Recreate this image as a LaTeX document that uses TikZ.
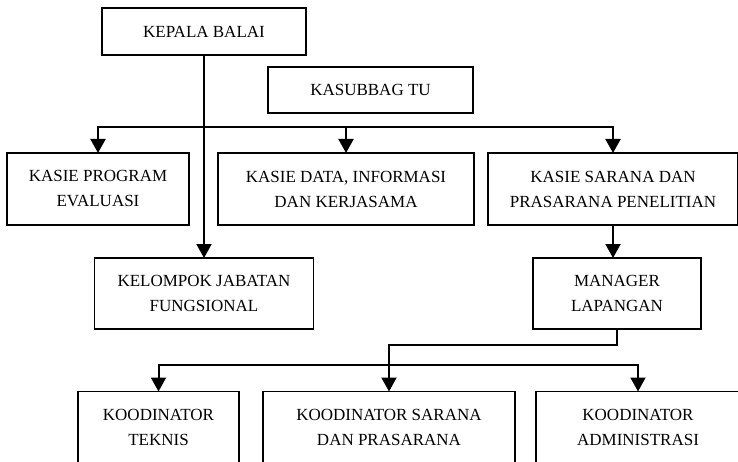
\documentclass[tikz,border=0pt]{standalone}
\usepackage{fontspec}
\setmainfont{Liberation Serif}
\usetikzlibrary{arrows.meta}
\begin{document}
\begin{tikzpicture}[x=1pt, y=-1pt, font=\fontsize{17}{25}\selectfont, every node/.style={draw, fill=white, line width=1.8pt, align=center, inner sep=0pt, outer sep=0pt}, arr/.style={line width=2pt, -{Triangle[width=15pt, length=14pt]}}, line join=miter]
        \useasboundingbox (0,0) rectangle (738,462);
        \node[minimum width=204, minimum height=47] (kepala) at (204, 31.5) {KEPALA BALAI};
        \node[minimum width=205, minimum height=46] (kasubbag) at (370.5, 90) {KASUBBAG TU};
        \node[minimum width=182, minimum height=72] (program) at (98, 189) {KASIE PROGRAM\\EVALUASI};
        \node[minimum width=256, minimum height=72] (data) at (346, 189) {KASIE DATA, INFORMASI\\DAN KERJASAMA};
        \node[minimum width=250, minimum height=72] (sarana) at (613, 189) {KASIE SARANA DAN\\PRASARANA PENELITIAN};
        \node[minimum width=219, minimum height=71] (kelompok) at (204, 293.5) {KELOMPOK JABATAN\\FUNGSIONAL};
        \node[minimum width=168, minimum height=71] (manager) at (617, 293.5) {MANAGER\\LAPANGAN};
        \node[minimum width=161, minimum height=71] (teknis) at (158.5, 427) {KOODINATOR\\TEKNIS};
        \node[minimum width=252, minimum height=71] (prasarana) at (389, 427) {KOODINATOR SARANA\\DAN PRASARANA};
        \node[minimum width=204, minimum height=71] (admin) at (638, 427) {KOODINATOR\\ADMINISTRASI};
        % garis
        \coordinate (atas) at (204, 127);
        \coordinate (bawah) at (389, 365);
        \draw[arr] (kepala.south) -- (kelompok.north);
        \draw[arr] (atas) -| (program.north);
        \draw[arr] (atas) -| (data.north);
        \draw[arr] (atas) -| (sarana.north);
        \draw[arr] (sarana.south) -- (manager.north -| sarana.south);
        \draw[arr] (manager.south) -- ++(0, 16) -| (prasarana.north);
        \draw[arr] (bawah) -| (teknis.north);
        \draw[arr] (bawah) -| (admin.north);
    \end{tikzpicture}
\end{document}
